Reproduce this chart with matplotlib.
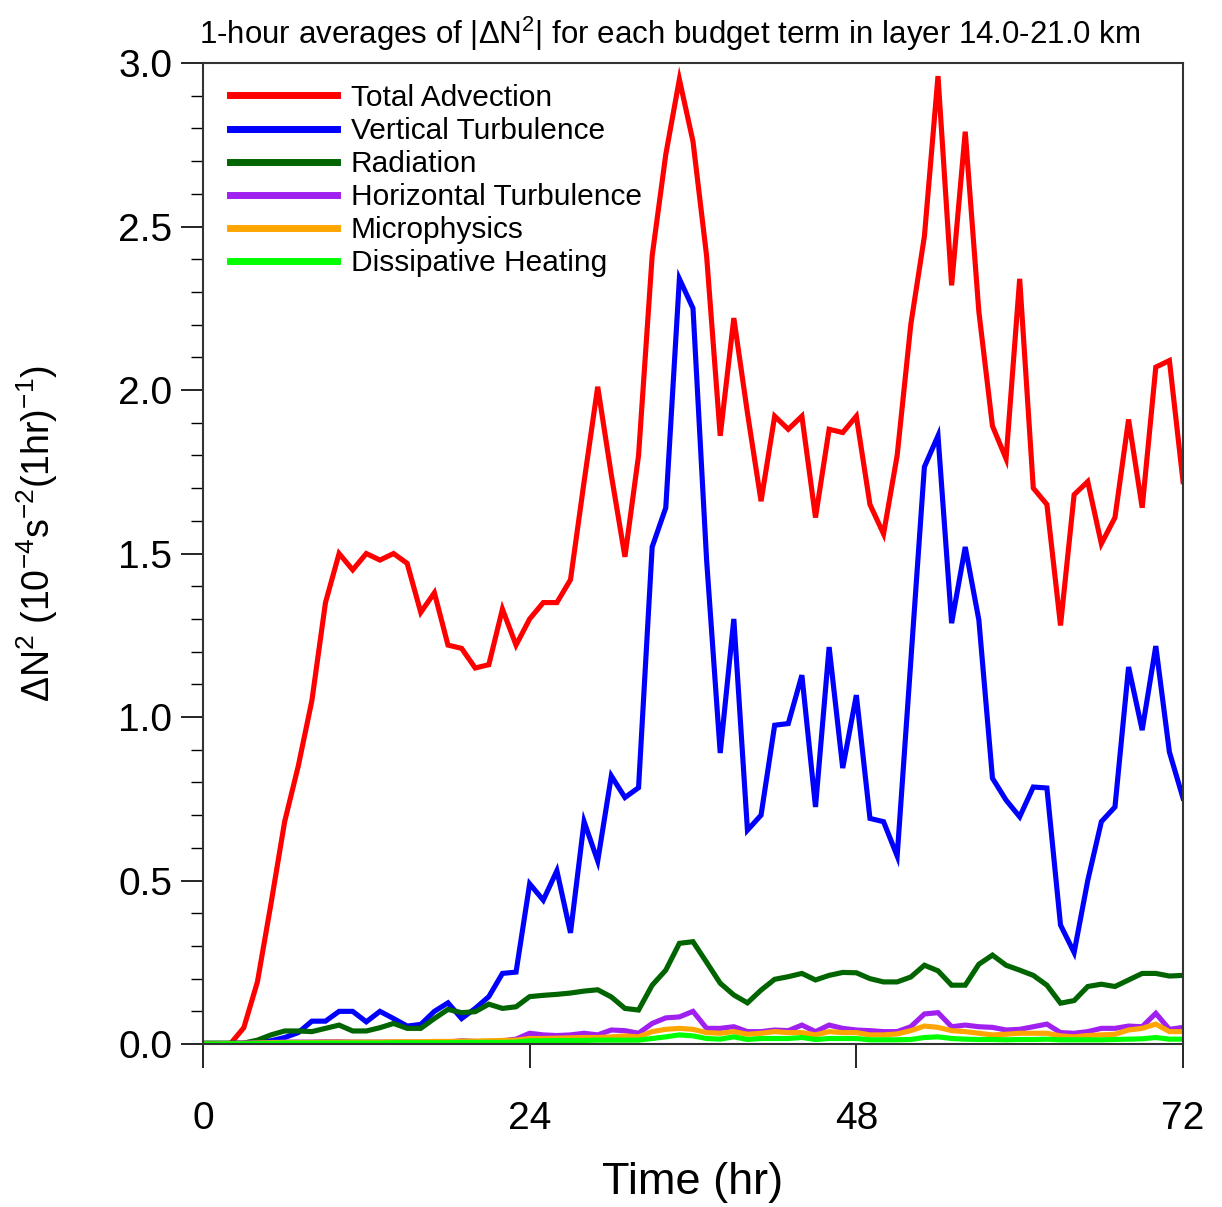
import matplotlib
matplotlib.use("Agg")
import matplotlib.pyplot as plt
from matplotlib.ticker import MultipleLocator
import numpy as np

plt.rcParams['font.family'] = ['Liberation Sans', 'DejaVu Sans']
plt.rcParams['mathtext.fontset'] = 'custom'
plt.rcParams['mathtext.rm'] = 'Liberation Sans'
plt.rcParams['mathtext.it'] = 'Liberation Sans'

######### Data #########
hours = np.arange(0, 73)

total_adv = [0.0, 0.0, 0.0, 0.05, 0.19, 0.43, 0.68, 0.85, 1.05, 1.35,
             1.50, 1.45, 1.50, 1.48, 1.50, 1.47, 1.32, 1.38, 1.22, 1.21,
             1.15, 1.16, 1.33, 1.22, 1.30, 1.35, 1.35, 1.42, 1.72, 2.01,
             1.74, 1.49, 1.80, 2.41, 2.72, 2.95, 2.76, 2.41, 1.86, 2.22,
             1.93, 1.66, 1.92, 1.88, 1.92, 1.61, 1.88, 1.87, 1.92, 1.65,
             1.56, 1.80, 2.20, 2.47, 2.96, 2.32, 2.79, 2.24, 1.89, 1.79,
             2.34, 1.70, 1.65, 1.28, 1.68, 1.72, 1.53, 1.61, 1.91, 1.64,
             2.07, 2.09, 1.72]

vert_turb = [0.0, 0.0, 0.0, 0.0, 0.005, 0.01, 0.02, 0.035, 0.07, 0.07,
             0.10, 0.10, 0.068, 0.10, 0.078, 0.055, 0.06, 0.10, 0.126, 0.078,
             0.109, 0.145, 0.216, 0.22, 0.49, 0.44, 0.53, 0.34, 0.68, 0.56,
             0.82, 0.754, 0.784, 1.52, 1.64, 2.34, 2.25, 1.48, 0.89, 1.30,
             0.654, 0.70, 0.975, 0.98, 1.128, 0.725, 1.214, 0.844, 1.067, 0.69,
             0.68, 0.575, 1.17, 1.765, 1.86, 1.287, 1.52, 1.297, 0.813, 0.746,
             0.695, 0.786, 0.783, 0.364, 0.28, 0.50, 0.68, 0.725, 1.153, 0.96,
             1.217, 0.893, 0.752]

radiation = [0.003, 0.003, 0.003, 0.003, 0.012, 0.028, 0.04, 0.04, 0.038, 0.048,
             0.058, 0.04, 0.04, 0.05, 0.063, 0.048, 0.048, 0.078, 0.106, 0.096,
             0.099, 0.122, 0.109, 0.114, 0.145, 0.149, 0.152, 0.156, 0.162, 0.166,
             0.144, 0.109, 0.104, 0.18, 0.226, 0.308, 0.313, 0.25, 0.186, 0.15,
             0.126, 0.165, 0.198, 0.206, 0.216, 0.196, 0.21, 0.219, 0.218, 0.20,
             0.19, 0.19, 0.205, 0.241, 0.224, 0.18, 0.18, 0.244, 0.272, 0.241,
             0.226, 0.21, 0.18, 0.125, 0.133, 0.176, 0.183, 0.176, 0.196, 0.216,
             0.216, 0.208, 0.21]

horiz_turb = [0.0, 0.0, 0.002, 0.003, 0.004, 0.005, 0.006, 0.006, 0.006, 0.007,
              0.007, 0.006, 0.006, 0.006, 0.006, 0.006, 0.006, 0.006, 0.006, 0.01,
              0.008, 0.006, 0.01, 0.015, 0.033, 0.028, 0.026, 0.028, 0.033, 0.028,
              0.043, 0.041, 0.033, 0.063, 0.08, 0.083, 0.10, 0.048, 0.048, 0.053,
              0.038, 0.038, 0.043, 0.041, 0.058, 0.038, 0.058, 0.048, 0.043, 0.041,
              0.038, 0.038, 0.053, 0.092, 0.096, 0.053, 0.058, 0.053, 0.051, 0.043,
              0.045, 0.053, 0.061, 0.035, 0.033, 0.038, 0.048, 0.048, 0.055, 0.053,
              0.094, 0.045, 0.051]

microphys = [0.0, 0.0, 0.001, 0.002, 0.003, 0.004, 0.005, 0.005, 0.005, 0.006,
             0.006, 0.006, 0.006, 0.006, 0.007, 0.007, 0.007, 0.008, 0.008, 0.009,
             0.009, 0.01, 0.011, 0.012, 0.017, 0.017, 0.018, 0.019, 0.02, 0.02,
             0.022, 0.025, 0.022, 0.038, 0.045, 0.048, 0.045, 0.035, 0.033, 0.038,
             0.03, 0.033, 0.038, 0.035, 0.035, 0.028, 0.038, 0.035, 0.035, 0.028,
             0.028, 0.031, 0.041, 0.055, 0.051, 0.041, 0.038, 0.033, 0.028, 0.03,
             0.033, 0.033, 0.033, 0.025, 0.022, 0.026, 0.028, 0.03, 0.043, 0.048,
             0.061, 0.038, 0.038]

dissip = [0.0, 0.0, 0.001, 0.001, 0.002, 0.002, 0.003, 0.003, 0.003, 0.003,
          0.003, 0.003, 0.003, 0.003, 0.004, 0.004, 0.004, 0.004, 0.004, 0.005,
          0.005, 0.005, 0.005, 0.006, 0.01, 0.01, 0.011, 0.011, 0.011, 0.012,
          0.012, 0.012, 0.012, 0.017, 0.022, 0.028, 0.025, 0.017, 0.015, 0.022,
          0.014, 0.017, 0.017, 0.017, 0.02, 0.014, 0.017, 0.017, 0.017, 0.013,
          0.013, 0.013, 0.014, 0.02, 0.022, 0.017, 0.015, 0.014, 0.014, 0.013,
          0.014, 0.014, 0.015, 0.013, 0.013, 0.013, 0.013, 0.014, 0.015, 0.016,
          0.02, 0.015, 0.015]

labels = ["Total Advection", "Vertical Turbulence", "Radiation",
          "Horizontal Turbulence", "Microphysics", "Dissipative Heating"]
colors = ["#FF0000", "#0000FF", "#006400", "#A020F0", "#FFA500", "#00FF00"]
#########################

series = [total_adv, vert_turb, radiation, horiz_turb, microphys, dissip]

fig = plt.figure(figsize=(12.22, 12.07), dpi=100)
ax = fig.add_axes([0.1661, 0.135, 0.8020, 0.8128])

for vals, lab, col in zip(series, labels, colors):
    ax.plot(hours, vals, color=col, lw=3.7, label=lab, solid_joinstyle='miter')

ax.set_xlim(0, 72)
ax.set_ylim(0, 3.0)
ax.set_xticks([0, 24, 48, 72])
ax.yaxis.set_major_locator(MultipleLocator(0.5))
ax.yaxis.set_minor_locator(MultipleLocator(0.1))
ax.yaxis.set_major_formatter(plt.FormatStrFormatter('%.1f'))

for s in ax.spines.values():
    s.set_color('#333333')
    s.set_linewidth(1.5)

ax.tick_params(axis='y', which='major', direction='out', length=16, width=1.2,
               labelsize=28, pad=6, right=False)
ax.tick_params(axis='y', which='minor', direction='out', length=9, width=1.0,
               right=False)
ax.tick_params(axis='x', which='major', direction='out', length=17, width=1.2,
               labelsize=28, pad=24, top=False)

ax.set_xlabel("Time (hr)", fontsize=32.5, labelpad=18)
ax.set_ylabel(r"$\Delta$N$^2$ (10$^{-4}$s$^{-2}$(1hr)$^{-1}$)", fontsize=27)
ax.yaxis.set_label_coords(-0.146, 0.52)
ax.set_title(r"1-hour averages of |$\Delta$N$^2$| for each budget term in layer 14.0-21.0 km",
             fontsize=22.5, pad=14, x=0.4765)

leg = ax.legend(loc='upper left', frameon=False, fontsize=21.5, handlelength=3.6,
                handletextpad=0.45, labelspacing=0.17, borderaxespad=0.45,
                borderpad=0.25, bbox_to_anchor=(0.006, 1.0))
for line in leg.get_lines():
    line.set_linewidth(5)

fig.savefig("out.png", dpi=100)
